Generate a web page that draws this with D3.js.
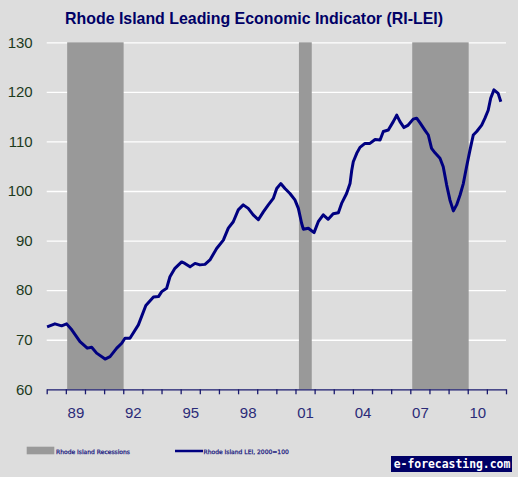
<!DOCTYPE html>
<html>
<head>
<meta charset="utf-8">
<script src="https://cdn.jsdelivr.net/npm/d3@7"></script>
<style>
  html, body { margin: 0; padding: 0; background: #dddddd; }
  svg { display: block; }
</style>
</head>
<body>
<svg id="chart" width="518" height="477"></svg>
<script>
// ---- Data ----
const titleText = "Rhode Island Leading Economic Indicator (RI-LEI)";
const dates = [
  1988.02, 1988.43, 1988.78, 1989.04, 1989.31, 1989.74, 1990.12, 1990.35, 1990.61, 1991.05,
  1991.31, 1991.66, 1991.92, 1992.09, 1992.35, 1992.79, 1993.18, 1993.58, 1993.84, 1994.01,
  1994.27, 1994.44, 1994.70, 1995.05, 1995.22, 1995.49, 1995.75, 1996.01, 1996.27, 1996.53,
  1996.88, 1997.23, 1997.49, 1997.75, 1998.01, 1998.27, 1998.53, 1998.79, 1999.06, 1999.32,
  1999.58, 1999.84, 2000.02, 2000.23, 2000.45, 2000.71, 2000.97, 2001.15, 2001.32, 2001.41,
  2001.67, 2001.97, 2002.19, 2002.45, 2002.71, 2002.97, 2003.24, 2003.41, 2003.67, 2003.85,
  2003.94, 2004.02, 2004.20, 2004.37, 2004.63, 2004.89, 2005.16, 2005.42, 2005.59, 2005.85,
  2006.11, 2006.29, 2006.46, 2006.67, 2006.89, 2007.15, 2007.33, 2007.50, 2007.76, 2007.94,
  2008.11, 2008.29, 2008.55, 2008.72, 2008.90, 2009.07, 2009.25, 2009.42, 2009.60, 2009.77,
  2009.94, 2010.12, 2010.29, 2010.47, 2010.73, 2010.90, 2011.07, 2011.20, 2011.37, 2011.59,
  2011.73];
const lei = [
  72.6, 73.2, 72.8, 73.2, 72.0, 69.6, 68.3, 68.5, 67.3, 66.1,
  66.6, 68.3, 69.3, 70.3, 70.3, 73.0, 76.9, 78.6, 78.7, 79.7,
  80.4, 82.7, 84.4, 85.7, 85.4, 84.7, 85.4, 85.1, 85.2, 86.1,
  88.4, 90.1, 92.5, 93.8, 96.2, 97.2, 96.5, 95.2, 94.2, 95.8,
  97.2, 98.5, 100.5, 101.5, 100.5, 99.5, 98.2, 96.5, 93.5, 92.3,
  92.5, 91.6, 93.8, 95.2, 94.3, 95.4, 95.6, 97.5, 99.5, 101.5,
  104.2, 105.9, 107.6, 108.8, 109.6, 109.6, 110.4, 110.3, 112.0, 112.3,
  114.0, 115.3, 114.0, 112.8, 113.3, 114.5, 114.7, 113.8, 112.3, 111.3,
  108.6, 107.7, 106.6, 104.9, 101.2, 98.2, 96.0, 97.2, 99.2, 101.5,
  104.9, 108.3, 111.3, 112.0, 113.3, 114.7, 116.3, 118.7, 120.4, 119.7,
  118.0];
const recessionStarts = [1989.07, 2001.18, 2007.10];
const recessionEnds   = [1992.02, 2001.85, 2010.05];
const yTicks = [60, 70, 80, 90, 100, 110, 120, 130];
const xTickYears = d3.range(1988, 2013);
const xLabelYears = [1989, 1992, 1995, 1998, 2001, 2004, 2007, 2010];
const xLabelText = ["89", "92", "95", "98", "01", "04", "07", "10"];
const legendLabels = ["Rhode Island Recessions", "Rhode Island LEI, 2000=100"];
const watermark = "e-forecasting.com";

// ---- Layout ----
const svg = d3.select("#chart");
const mLeft = 46.7, mRight = 506, mTop = 42.3, mBottom = 389.3;
const x = d3.scaleLinear().domain([1988, 2012]).range([mLeft, mRight]);
const y = d3.scaleLinear().domain([60, 130]).range([mBottom, mTop]);
const navy = "#000080";

svg.append("rect").attr("width", 518).attr("height", 477).attr("fill", "#dddddd");

// Title
svg.append("text").attr("x", 254).attr("y", 24)
  .attr("text-anchor", "middle")
  .attr("font-family", "Liberation Sans, Arial, sans-serif")
  .attr("font-weight", "bold").attr("font-size", 15.9)
  .attr("fill", "#000066").text(titleText);

// Gridlines
svg.append("g").attr("transform", `translate(${mLeft},0)`)
  .call(d3.axisLeft(y).tickValues(yTicks.filter(d => d > 60)).tickSize(-(mRight - mLeft)).tickFormat(""))
  .call(g => g.select(".domain").remove())
  .call(g => g.selectAll("line").attr("stroke", "#ffffff").attr("stroke-width", 1.3));

// Recession bars
svg.append("g").selectAll("rect").data(recessionStarts).join("rect")
  .attr("x", (d) => x(d))
  .attr("width", (d, i) => x(recessionEnds[i]) - x(d))
  .attr("y", y(130)).attr("height", y(60) - y(130))
  .attr("fill", "#999999");

// Y axis labels
svg.append("g").attr("transform", `translate(${mLeft},0)`)
  .call(d3.axisLeft(y).tickValues(yTicks).tickSize(0).tickPadding(14))
  .call(g => g.select(".domain").remove())
  .call(g => g.selectAll("text")
    .attr("font-family", "Liberation Sans, Arial, sans-serif")
    .attr("font-size", 15).attr("fill", "#1c3a1c"));

// X axis ticks
svg.append("g").attr("transform", `translate(0,${mBottom})`)
  .call(d3.axisBottom(x).tickValues(xTickYears).tickSize(5).tickSizeOuter(0).tickFormat(""))
  .call(g => g.select(".domain").attr("stroke", "#1a1a6e").attr("stroke-width", 1.3))
  .call(g => g.selectAll("line").attr("stroke", "#1a1a6e").attr("stroke-width", 1.3));

// X axis labels
svg.append("g").attr("transform", `translate(0,${mBottom})`)
  .call(d3.axisBottom(x).tickValues(xLabelYears.map(d => d + 0.5)).tickSize(0).tickPadding(18)
    .tickFormat((d, i) => xLabelText[i]))
  .call(g => g.select(".domain").remove())
  .call(g => g.selectAll("text")
    .attr("font-family", "Liberation Sans, Arial, sans-serif")
    .attr("font-size", 15).attr("fill", "#2b2b78"));

// LEI line
const line = d3.line().x((d, i) => x(dates[i])).y(d => y(d));
svg.append("path").datum(lei)
  .attr("d", line).attr("fill", "none")
  .attr("stroke", navy).attr("stroke-width", 3).attr("stroke-linejoin", "round");

// Legend
const lg = svg.append("g").attr("font-family", "DejaVu Sans, sans-serif")
  .attr("font-size", 6.0).attr("fill", "#1a1a80")
  .attr("stroke", "#1a1a80").attr("stroke-width", 0.25);
lg.append("rect").attr("x", 26.7).attr("y", 446.7).attr("width", 27.6).attr("height", 7.6)
  .attr("fill", "#999999").attr("stroke", "none");
lg.append("text").attr("x", 56).attr("y", 453.5).text(legendLabels[0]);
lg.append("line").attr("x1", 175).attr("x2", 203).attr("y1", 451).attr("y2", 451)
  .attr("stroke", navy).attr("stroke-width", 2.5);
lg.append("text").attr("x", 203.5).attr("y", 453.5).text(legendLabels[1]);

// Watermark
svg.append("rect").attr("x", 391).attr("y", 456).attr("width", 121).attr("height", 16).attr("fill", "#000066");
svg.append("text").attr("x", 452).attr("y", 468.2).attr("text-anchor", "middle")
  .attr("font-family", "DejaVu Sans Mono, monospace").attr("font-weight", "bold")
  .attr("font-size", 11.4).attr("fill", "#ffffff").text(watermark);
</script>
</body>
</html>
